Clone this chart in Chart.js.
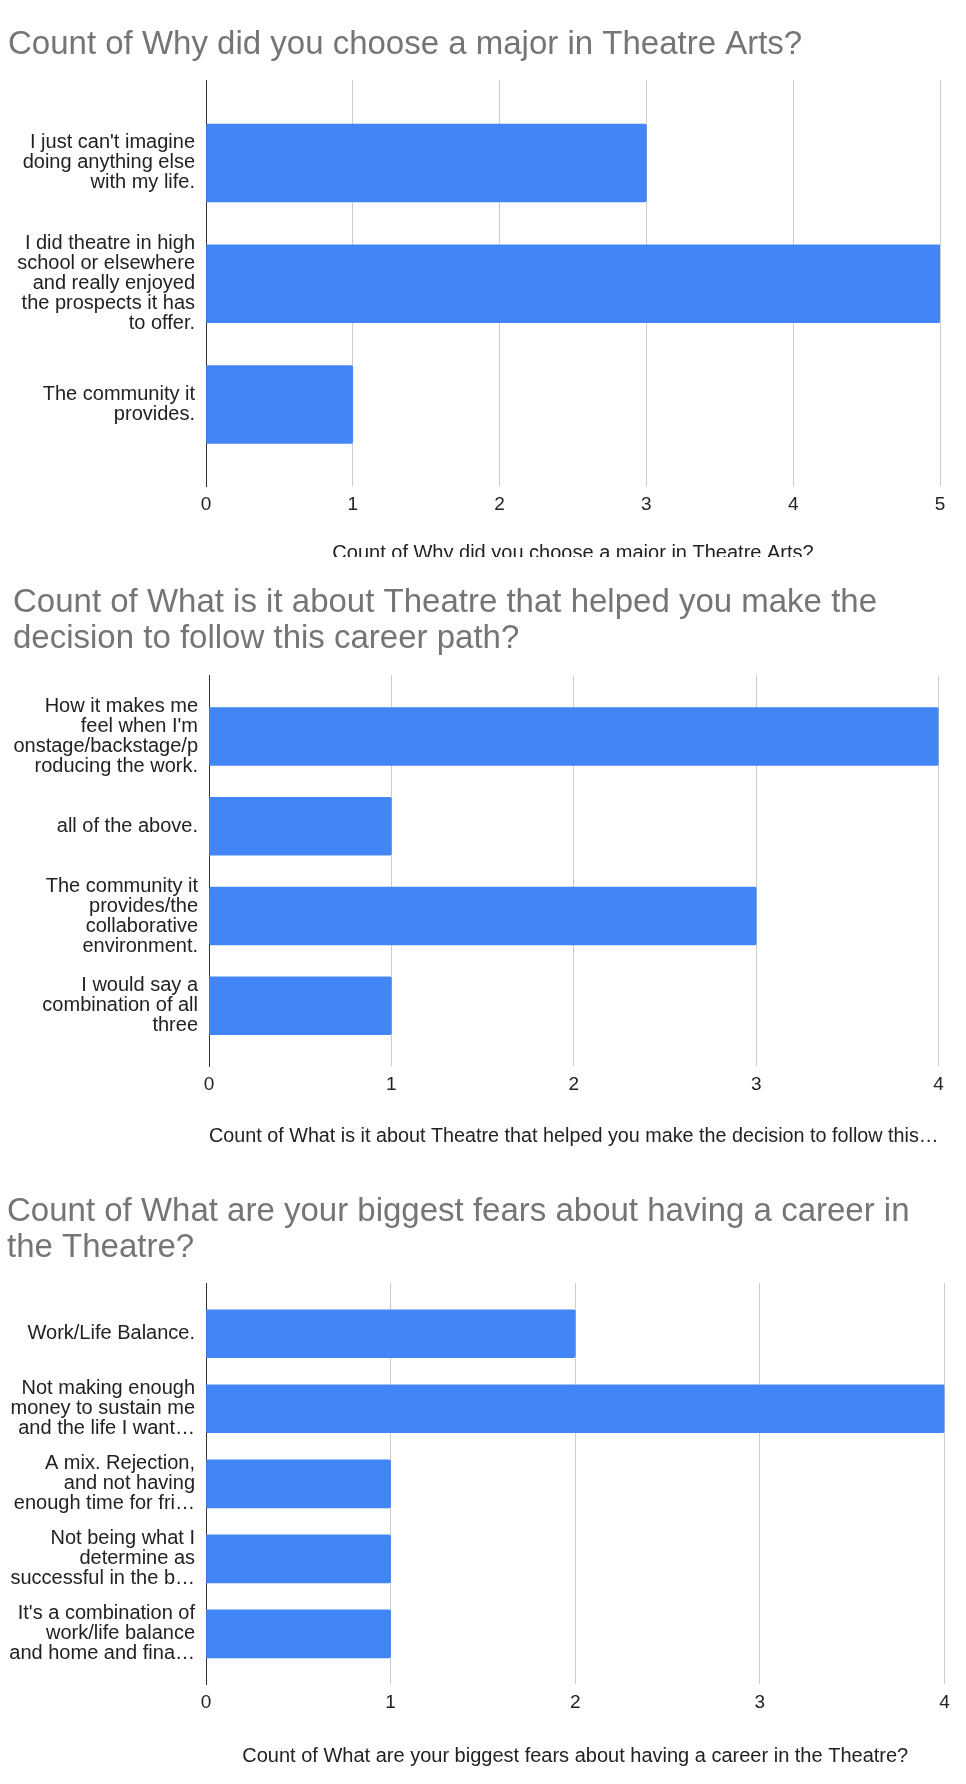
<!DOCTYPE html>
<html>
<head>
<meta charset="utf-8">
<title>Theatre Arts survey counts</title>
<script src="https://cdn.jsdelivr.net/npm/chart.js@4.4.1/dist/chart.umd.min.js"></script>
<style>
    html, body { margin: 0; padding: 0; background: #fff; }
    .panel { position: absolute; left: 0; width: 966px; overflow: hidden; }
    canvas { display: block; }
</style>
</head>
<body>
<div class="panel" style="top:0;height:557px"><canvas id="majorChart" width="966" height="600"></canvas></div>
<div class="panel" style="top:557px;height:603px"><canvas id="decisionChart" width="966" height="603"></canvas></div>
<div class="panel" style="top:1160px;height:624px"><canvas id="fearsChart" width="966" height="624"></canvas></div>
<script>
// chart 1
const majorTitle = 'Count of Why did you choose a major in Theatre Arts?';
const majorAxisTitle = 'Count of Why did you choose a major in Theatre Arts?';
const majorLabels = [
    ["I just can't imagine", 'doing anything else', 'with my life.'],
    ['I did theatre in high', 'school or elsewhere', 'and really enjoyed', 'the prospects it has', 'to offer.'],
    ['The community it', 'provides.']
];
const majorCounts = [3, 5, 1];
const majorTicks = [0, 1, 2, 3, 4, 5];

// chart 2
const decisionTitle = ['Count of What is it about Theatre that helped you make the', 'decision to follow this career path?'];
const decisionAxisTitle = 'Count of What is it about Theatre that helped you make the decision to follow this\u2026';
const decisionLabels = [
    ['How it makes me', "feel when I'm", 'onstage/backstage/p', 'roducing the work.'],
    ['all of the above.'],
    ['The community it', 'provides/the', 'collaborative', 'environment.'],
    ['I would say a', 'combination of all', 'three']
];
const decisionCounts = [4, 1, 3, 1];
const decisionTicks = [0, 1, 2, 3, 4];

// chart 3
const fearsTitle = ['Count of What are your biggest fears about having a career in', 'the Theatre?'];
const fearsAxisTitle = 'Count of What are your biggest fears about having a career in the Theatre?';
const fearsLabels = [
    ['Work/Life Balance.'],
    ['Not making enough', 'money to sustain me', 'and the life I want\u2026'],
    ['A mix. Rejection,', 'and not having', 'enough time for fri\u2026'],
    ['Not being what I', 'determine as', 'successful in the b\u2026'],
    ["It's a combination of", 'work/life balance', 'and home and fina\u2026']
];
const fearsCounts = [2, 4, 1, 1, 1];
const fearsTicks = [0, 1, 2, 3, 4];

const FONT = "'Liberation Sans', Arial, Helvetica, sans-serif";
Chart.defaults.font.family = FONT;

function drawCountChart(canvasId, title, axisTitle, labels, counts, ticks, box) {
    const ctx = document.getElementById(canvasId).getContext('2d');
    const lastIndex = labels.length - 1;

    return new Chart(ctx, {
        type: 'bar',
        data: {
            datasets: [{
                data: counts.map((c, i) => ({ x: c, y: i })),
                backgroundColor: '#4285f4',
                borderWidth: 0,
                borderRadius: 2,
                borderSkipped: 'start',
                barThickness: box.bar
            }]
        },
        options: {
            indexAxis: 'y',
            responsive: false,
            animation: false,
            events: [],
            layout: {
                padding: { left: box.left, right: box.right, top: 0, bottom: box.bottom }
            },
            plugins: {
                legend: { display: false },
                tooltip: { enabled: false },
                title: {
                    display: true,
                    text: title,
                    align: 'start',
                    color: '#757575',
                    font: { size: 33, weight: 'normal', lineHeight: 1.1 },
                    padding: { top: box.titleTop, bottom: box.titleGap }
                }
            },
            scales: {
                x: {
                    type: 'linear',
                    min: ticks[0],
                    max: ticks[ticks.length - 1],
                    afterBuildTicks: scale => { scale.ticks = ticks.map(v => ({ value: v })); },
                    afterFit: scale => { scale.height = box.xAxisHeight; },
                    grid: {
                        drawTicks: false,
                        lineWidth: 1,
                        color: c => (c.tick && c.tick.value === 0) ? 'rgba(0,0,0,0)' : '#cccccc'
                    },
                    border: { display: false },
                    ticks: { color: '#222222', font: { size: 19 }, padding: 7, maxRotation: 0 },
                    title: {
                        display: true,
                        text: axisTitle,
                        color: '#222222',
                        font: { size: 20 },
                        padding: 0
                    }
                },
                y: {
                    // index axis kept linear so the band spacing can be set from the picture
                    type: 'linear',
                    offset: false,
                    reverse: true,
                    min: -box.edge,
                    max: lastIndex + box.edgeEnd,
                    afterBuildTicks: scale => { scale.ticks = labels.map((l, i) => ({ value: i })); },
                    afterFit: scale => { scale.width = box.axisX - box.left; },
                    grid: { display: false, drawTicks: false, offset: false },
                    border: { display: true, color: '#333333', width: 1 },
                    ticks: {
                        color: '#222222',
                        font: { size: 20, lineHeight: 1 },
                        padding: 11,
                        callback: value => labels[value]
                    }
                }
            }
        }
    });
}

drawCountChart('majorChart', majorTitle, majorAxisTitle, majorLabels, majorCounts, majorTicks, {
    left: 8, axisX: 206, right: 26, bottom: 35,
    titleTop: 26.35, titleGap: 17.35, xAxisHeight: 79,
    bar: 78, edge: 0.687, edgeEnd: 0.675
});

drawCountChart('decisionChart', decisionTitle, decisionAxisTitle, decisionLabels, decisionCounts, decisionTicks, {
    left: 13, axisX: 209, right: 27.4, bottom: 11.5,
    titleTop: 27.85, titleGap: 17.55, xAxisHeight: 82.5,
    bar: 58, edge: 0.685, edgeEnd: 0.671
});

drawCountChart('fearsChart', fearsTitle, fearsAxisTitle, fearsLabels, fearsCounts, fearsTicks, {
    left: 7, axisX: 206, right: 21.5, bottom: 15.5,
    titleTop: 33.35, titleGap: 17.05, xAxisHeight: 84.5,
    bar: 48, edge: 0.677, edgeEnd: 0.669
});
</script>
</body>
</html>
